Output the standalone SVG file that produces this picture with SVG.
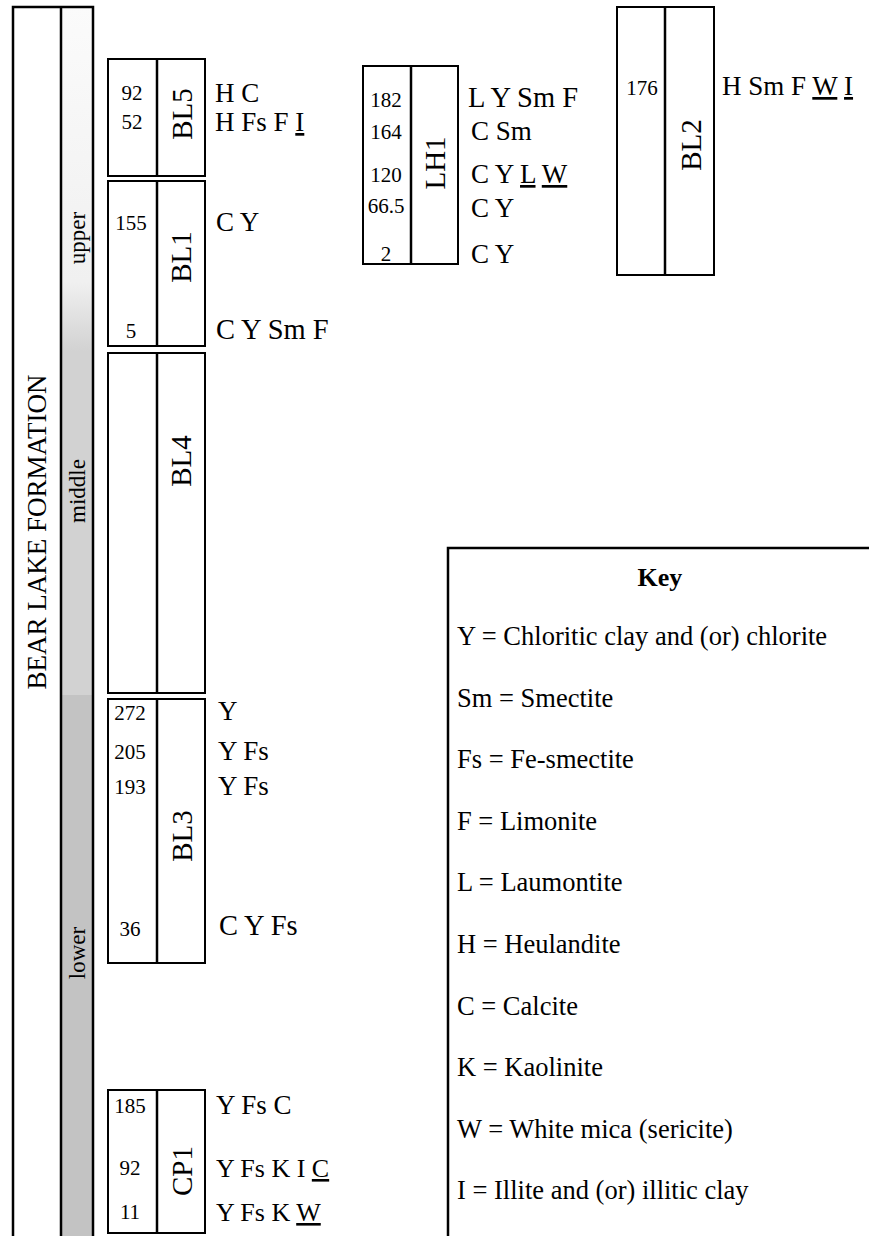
<svg xmlns="http://www.w3.org/2000/svg" width="869" height="1236" viewBox="0 0 869 1236" font-family="'Liberation Serif', 'DejaVu Serif', serif">
<defs>
<linearGradient id="g" x1="0" y1="7" x2="0" y2="695" gradientUnits="userSpaceOnUse">
<stop offset="0" stop-color="#fbfbfb"/>
<stop offset="0.40" stop-color="#f0f0f0"/>
<stop offset="0.50" stop-color="#d2d2d2"/>
<stop offset="1" stop-color="#d2d2d2"/>
</linearGradient>
<style>
.box{fill:#fff;stroke:#000;stroke-width:2}
.ln{stroke:#000;stroke-width:2.5;fill:none}
.num{font-size:21px;text-anchor:middle}
.lab{font-size:27px}
.big{font-size:28.5px}
.sm{font-size:26px}
.id{font-size:29px;text-anchor:middle}
.key{font-size:26.5px}
.u{text-decoration:underline}
</style>
</defs>

<g id="formation">
<rect x="13" y="7" width="48" height="1240" fill="#fff"/>
<rect x="61" y="7" width="32" height="688" fill="url(#g)"/>
<rect x="61" y="695" width="32" height="545" fill="#c3c3c3"/>
<path class="ln" d="M13,1240 V7 H93 V1240 M61,7 V1240"/>
<text transform="translate(37,532) rotate(-90)" y="9" font-size="27" text-anchor="middle">BEAR LAKE FORMATION</text>
<text transform="translate(77,238) rotate(-90)" y="8" font-size="23" text-anchor="middle">upper</text>
<text transform="translate(77,491) rotate(-90)" y="8" font-size="23" text-anchor="middle">middle</text>
<text transform="translate(77,953) rotate(-90)" y="8" font-size="23" text-anchor="middle">lower</text>
</g>

<g id="BL5">
<rect class="box" x="108" y="59" width="97" height="117"/>
<line class="ln" x1="157" y1="59" x2="157" y2="176"/>
<text class="id" transform="translate(182,114) rotate(-90)" y="10">BL5</text>
<text class="num" x="132" y="100">92</text>
<text class="num" x="132" y="129">52</text>
<text class="lab" x="215" y="102">H C</text>
<text class="lab" x="215" y="131">H Fs F <tspan class="u">I</tspan></text>
</g>

<g id="BL1">
<rect class="box" x="108" y="181" width="97" height="165"/>
<line class="ln" x1="157" y1="181" x2="157" y2="346"/>
<text class="id" transform="translate(181,257) rotate(-90)" y="10">BL1</text>
<text class="num" x="131" y="230">155</text>
<text class="num" x="131" y="338">5</text>
<text class="lab" x="216" y="231">C Y</text>
<text class="lab big" x="216" y="339">C Y Sm F</text>
</g>

<g id="BL4">
<rect class="box" x="108" y="353" width="97" height="340"/>
<line class="ln" x1="157" y1="353" x2="157" y2="693"/>
<text class="id" transform="translate(181,461) rotate(-90)" y="10">BL4</text>
</g>

<g id="BL3">
<rect class="box" x="108" y="699" width="97" height="264"/>
<line class="ln" x1="157" y1="699" x2="157" y2="963"/>
<text class="id" transform="translate(182,836) rotate(-90)" y="10">BL3</text>
<text class="num" x="130" y="720">272</text>
<text class="num" x="130" y="759">205</text>
<text class="num" x="130" y="794">193</text>
<text class="num" x="130" y="936">36</text>
<text class="lab" x="218" y="720">Y</text>
<text class="lab" x="218" y="760">Y Fs</text>
<text class="lab" x="218" y="795">Y Fs</text>
<text class="lab big" x="219" y="935">C Y Fs</text>
</g>

<g id="CP1">
<rect class="box" x="108" y="1090" width="97" height="143"/>
<line class="ln" x1="157" y1="1090" x2="157" y2="1233"/>
<text class="id" transform="translate(182,1171) rotate(-90)" y="10">CP1</text>
<text class="num" x="130" y="1113">185</text>
<text class="num" x="130" y="1175">92</text>
<text class="num" x="130" y="1219">11</text>
<text class="lab" x="216" y="1114">Y Fs C</text>
<text class="lab sm" x="216" y="1177">Y Fs K I <tspan class="u">C</tspan></text>
<text class="lab sm" x="216" y="1221">Y Fs K <tspan class="u">W</tspan></text>
</g>

<g id="LH1">
<rect class="box" x="363" y="66" width="95" height="198"/>
<line class="ln" x1="411" y1="66" x2="411" y2="264"/>
<text class="id" transform="translate(435,163) rotate(-90)" y="10">LH1</text>
<text class="num" x="386" y="107">182</text>
<text class="num" x="386" y="139">164</text>
<text class="num" x="386" y="182">120</text>
<text class="num" x="386" y="213">66.5</text>
<text class="num" x="386" y="261">2</text>
<text class="lab big" x="468" y="107">L Y Sm F</text>
<text class="lab" x="471" y="140">C Sm</text>
<text class="lab" x="471" y="183">C Y <tspan class="u">L</tspan> <tspan class="u">W</tspan></text>
<text class="lab" x="471" y="217">C Y</text>
<text class="lab" x="471" y="263">C Y</text>
</g>

<g id="BL2">
<rect class="box" x="617" y="7" width="97" height="268"/>
<line class="ln" x1="665" y1="7" x2="665" y2="275"/>
<text class="id" transform="translate(691,145) rotate(-90)" y="10">BL2</text>
<text class="num" x="642" y="95">176</text>
<text class="lab" x="722" y="95">H Sm F <tspan class="u">W</tspan> <tspan class="u">I</tspan></text>
</g>

<g id="key">
<path class="ln" d="M448,1240 V548 H875"/>
<text x="660" y="586" font-size="26" font-weight="bold" text-anchor="middle">Key</text>
<text class="key" x="457" y="645">Y = Chloritic clay and (or) chlorite</text>
<text class="key" x="457" y="707">Sm = Smectite</text>
<text class="key" x="457" y="768">Fs = Fe-smectite</text>
<text class="key" x="457" y="830">F = Limonite</text>
<text class="key" x="457" y="891">L = Laumontite</text>
<text class="key" x="457" y="953">H = Heulandite</text>
<text class="key" x="457" y="1015">C = Calcite</text>
<text class="key" x="457" y="1076">K = Kaolinite</text>
<text class="key" x="457" y="1138">W = White mica (sericite)</text>
<text class="key" x="457" y="1199">I = Illite and (or) illitic clay</text>
</g>
</svg>
